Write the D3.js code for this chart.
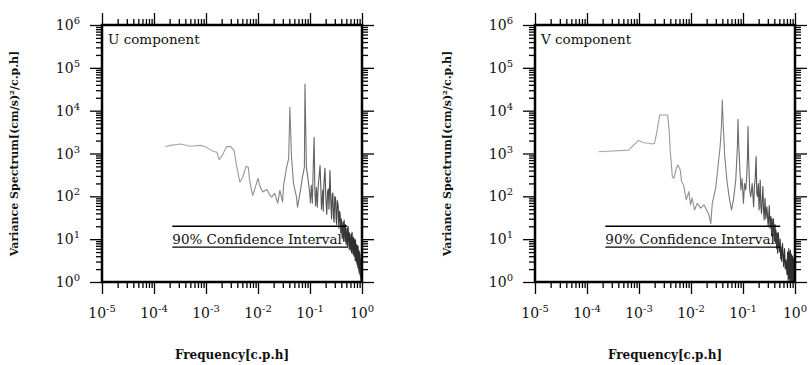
<!DOCTYPE html>
<html>
<head>
<meta charset="utf-8">
<script src="https://cdn.jsdelivr.net/npm/d3@7"></script>
<style>
  body { margin: 0; background: #fff; }
  svg { display: block; }
</style>
</head>
<body>
<div id="chart"></div>
<script>
// U component spectrum (rows of 10)
const uFreq = [
  1.66e-4, 2.09e-4, 3.24e-4, 5.0e-4, 7.8e-4, 9.5e-4, 1.38e-3, 1.62e-3, 1.78e-3, 2.04e-3,
  2.5e-3, 3.0e-3, 3.47e-3, 3.8e-3, 4.47e-3, 5.1e-3, 5.9e-3, 6.5e-3, 6.9e-3, 7.9e-3,
  8.7e-3, 0.0100, 0.0107, 0.0123, 0.0148, 0.0170, 0.0183, 0.0209, 0.024, 0.0263,
  0.0297, 0.031, 0.0355, 0.0389, 0.041, 0.0441, 0.0482, 0.055, 0.0575, 0.0656,
  0.0716, 0.078, 0.080, 0.0853, 0.0977, 0.102, 0.106, 0.111, 0.116, 0.12,
  0.124, 0.128, 0.133, 0.138, 0.144, 0.150, 0.156, 0.162, 0.166, 0.176,
  0.180, 0.185, 0.194, 0.200, 0.210, 0.218, 0.225, 0.232, 0.242, 0.250,
  0.260, 0.268, 0.275, 0.283, 0.290, 0.300, 0.310, 0.318, 0.325, 0.335,
  0.348, 0.355, 0.360, 0.370, 0.380, 0.390, 0.400, 0.415, 0.430, 0.440,
  0.453, 0.470, 0.480, 0.495, 0.515, 0.525, 0.541, 0.565, 0.575, 0.590,
  0.615, 0.630, 0.644, 0.670, 0.685, 0.703, 0.725, 0.740, 0.750, 0.775,
  0.785, 0.800, 0.820, 0.830, 0.840, 0.860, 0.868, 0.877, 0.900, 0.910,
  0.917, 0.935, 0.940, 0.950, 0.970, 0.980, 0.990];
const uSpec = [
  1450, 1550, 1660, 1480, 1550, 1450, 1120, 1070, 720, 890,
  1450, 1450, 1170, 590, 214, 280, 500, 480, 234, 105,
  150, 263, 182, 126, 145, 105, 96, 117, 69, 138,
  74, 180, 480, 760, 12000, 820, 200, 96, 56, 138,
  280, 480, 42000, 480, 138, 70, 180, 69, 600, 2400,
  138, 60, 160, 56, 180, 300, 525, 150, 50, 140,
  45, 200, 450, 120, 38, 130, 150, 50, 400, 90,
  30, 110, 120, 35, 25, 100, 90, 30, 22, 80,
  62, 25, 18, 45, 38, 14, 30, 10.5, 25, 9,
  28, 9, 22, 7.6, 18, 6.5, 20, 6, 14, 5.5,
  13, 4.8, 14.5, 4.5, 11, 4.0, 10, 3.2, 9.5, 3,
  7.5, 2.6, 7, 2.2, 6.9, 2, 5.5, 1.7, 5, 1.5,
  4.5, 1.3, 3.5, 1.1, 3, 1.05, 2.5];

// V component spectrum (rows of 10)
const vFreq = [
  1.66e-4, 6.3e-4, 7.9e-4, 9.8e-4, 1.23e-3, 1.55e-3, 1.78e-3, 2.0e-3, 2.24e-3, 2.5e-3,
  3.55e-3, 3.8e-3, 3.98e-3, 4.37e-3, 4.68e-3, 5.25e-3, 5.6e-3, 6.2e-3, 6.6e-3, 7.2e-3,
  8.1e-3, 9.1e-3, 9.8e-3, 0.0105, 0.0117, 0.0132, 0.0153, 0.0178, 0.0207, 0.0221,
  0.024, 0.0257, 0.0299, 0.033, 0.0363, 0.0385, 0.040, 0.0415, 0.0446, 0.049,
  0.054, 0.060, 0.0656, 0.0726, 0.078, 0.080, 0.083, 0.091, 0.096, 0.102,
  0.107, 0.113, 0.118, 0.122, 0.125, 0.128, 0.134, 0.141, 0.150, 0.160,
  0.166, 0.171, 0.179, 0.184, 0.190, 0.197, 0.204, 0.214, 0.220, 0.227,
  0.241, 0.248, 0.255, 0.265, 0.275, 0.288, 0.305, 0.320, 0.330, 0.344,
  0.355, 0.362, 0.371, 0.385, 0.400, 0.415, 0.422, 0.430, 0.445, 0.455,
  0.463, 0.480, 0.500, 0.520, 0.530, 0.537, 0.555, 0.575, 0.605, 0.630,
  0.650, 0.670, 0.700, 0.720, 0.740, 0.760, 0.770, 0.780, 0.800, 0.815,
  0.830, 0.845, 0.860, 0.870, 0.880, 0.890, 0.900, 0.915, 0.930, 0.940,
  0.950, 0.960, 0.970, 0.980, 0.990];
const vSpec = [
  1100, 1200, 1580, 2000, 1780, 1740, 1660, 1740, 3550, 7900,
  7900, 3550, 1200, 290, 263, 457, 537, 417, 219, 186,
  83, 129, 63, 91, 48, 69, 53, 63, 44, 37,
  23, 69, 155, 490, 1450, 4270, 18000, 5100, 850, 240,
  98, 48, 83, 240, 1450, 6300, 1450, 141, 260, 69,
  200, 141, 300, 850, 4270, 850, 150, 98, 200, 57,
  180, 240, 850, 120, 98, 200, 48, 240, 60, 40,
  170, 50, 28, 90, 30, 57, 19.6, 60, 18, 34,
  12, 30, 11.4, 30, 9, 22, 8, 16, 6, 14,
  4.7, 14, 5, 10, 3.5, 6.7, 3, 8, 2.3, 6,
  2, 3.3, 1.5, 5, 1.1, 6, 1.2, 5, 1.05, 5.5,
  1.1, 4.5, 1.05, 4.2, 1.02, 4, 1.0, 3.8, 1.0, 3.5,
  1.0, 3.2, 1.0, 3, 1.0];

const xTickExps = [-5, -4, -3, -2, -1, 0];
const yTickExps = [0, 1, 2, 3, 4, 5, 6];
const ciFreq = [2.25e-4, 0.52];
const ciLevels = [20, 6.5];
const ciLabel = "90% Confidence Interval";
const xTitle = "Frequency[c.p.h]";
const yTitle = "Variance Spectrum[(cm/s)\u00B2/c.p.h]";

const panels = [
  {name: "U component", freq: uFreq, spec: uSpec, left: 102},
  {name: "V component", freq: vFreq, spec: vSpec, left: 535}
];

const width = 810, height = 365;
const panelTop = 25, W = 260, H = 257;
const serif = "'DejaVu Serif', serif";

const svg = d3.select("#chart").append("svg")
    .attr("width", width)
    .attr("height", height);

svg.append("rect").attr("width", width).attr("height", height).attr("fill", "#fff");

const isMajor = v => Math.abs(Math.log10(v) - Math.round(Math.log10(v))) < 1e-9;

panels.forEach((p, i) => {
  const g = svg.append("g").attr("transform", `translate(${p.left},${panelTop})`);

  const x = d3.scaleLog().domain([1e-5, 1]).range([0, W]);
  const y = d3.scaleLog().domain([1, 1e6]).range([H, 0]);

  const xMajor = x.ticks().filter(isMajor), xMinor = x.ticks().filter(v => !isMajor(v));
  const yMajor = y.ticks().filter(isMajor), yMinor = y.ticks().filter(v => !isMajor(v));

  // ticks on all four sides, pointing outward
  const addAxis = (axis, vals, size, tr) => {
    const a = g.append("g")
        .attr("transform", tr)
        .call(axis.tickValues(vals).tickSize(size).tickFormat(""));
    a.select(".domain").remove();
    a.selectAll("line").attr("stroke", "#000").attr("stroke-width", 1.3);
  };
  addAxis(d3.axisBottom(x), xMinor, 6, `translate(0,${H})`);
  addAxis(d3.axisBottom(x), xMajor, 12, `translate(0,${H})`);
  addAxis(d3.axisTop(x), xMinor, 6, "translate(0,0)");
  addAxis(d3.axisTop(x), xMajor, 12, "translate(0,0)");
  addAxis(d3.axisLeft(y), yMinor, 6, "translate(0,0)");
  addAxis(d3.axisLeft(y), yMajor, 12, "translate(0,0)");
  addAxis(d3.axisRight(y), yMinor, 6, `translate(${W},0)`);
  addAxis(d3.axisRight(y), yMajor, 12, `translate(${W},0)`);

  // tick labels as 10 with superscript exponent
  const xl = g.append("g").style("font", `14px ${serif}`).attr("fill", "#111")
    .selectAll("text").data(xTickExps).join("text")
      .attr("x", e => x(Math.pow(10, e)))
      .attr("y", H + 36)
      .attr("text-anchor", "middle")
      .text("10");
  xl.append("tspan").attr("dy", -6).style("font-size", "10px").text(e => e);

  const yl = g.append("g").style("font", `14px ${serif}`).attr("fill", "#111")
    .selectAll("text").data(yTickExps).join("text")
      .attr("x", -22)
      .attr("y", e => y(Math.pow(10, e)) + 5)
      .attr("text-anchor", "end")
      .text("10");
  yl.append("tspan").attr("dy", -6).style("font-size", "10px").text(e => e);

  // spectrum: light grey at low frequency, darker where the trace is dense
  const grad = svg.append("defs").append("linearGradient")
      .attr("id", "fade" + i)
      .attr("gradientUnits", "userSpaceOnUse")
      .attr("x1", x(1e-3)).attr("x2", x(0.6)).attr("y1", 0).attr("y2", 0);
  grad.append("stop").attr("offset", 0).attr("stop-color", "#a8a8a8");
  grad.append("stop").attr("offset", 0.6).attr("stop-color", "#808080");
  grad.append("stop").attr("offset", 1).attr("stop-color", "#303030");

  const line = d3.line()
      .x(d => x(d[0]))
      .y(d => y(d[1]));
  g.append("path")
      .datum(d3.zip(p.freq, p.spec))
      .attr("fill", "none")
      .attr("stroke", `url(#fade${i})`)
      .attr("stroke-width", 1.1)
      .attr("stroke-linejoin", "round")
      .attr("d", line);

  // confidence interval
  g.append("g").attr("stroke", "#000").attr("stroke-width", 1.3)
    .selectAll("line").data(ciLevels).join("line")
      .attr("x1", x(ciFreq[0])).attr("x2", x(ciFreq[1]))
      .attr("y1", d => y(d)).attr("y2", d => y(d));
  g.append("text")
      .attr("x", x(ciFreq[0]))
      .attr("y", y(ciLevels[1]) - 2.7)
      .style("font", `13.5px ${serif}`)
      .attr("fill", "#111")
      .text(ciLabel);

  g.append("text")
      .attr("x", 6).attr("y", 19)
      .style("font", `13.5px ${serif}`)
      .attr("fill", "#111")
      .text(p.name);

  // frame
  g.append("rect")
      .attr("width", W).attr("height", H)
      .attr("fill", "none").attr("stroke", "#000").attr("stroke-width", 2.5);

  // axis titles
  g.append("text")
      .attr("transform", `translate(-84,${H / 2}) rotate(-90)`)
      .attr("text-anchor", "middle")
      .style("font", `bold 11px ${serif}`)
      .attr("fill", "#111")
      .text(yTitle);
  g.append("text")
      .attr("x", W / 2).attr("y", 334)
      .attr("text-anchor", "middle")
      .style("font", `bold 12px ${serif}`)
      .attr("fill", "#111")
      .text(xTitle);
});
</script>
</body>
</html>
